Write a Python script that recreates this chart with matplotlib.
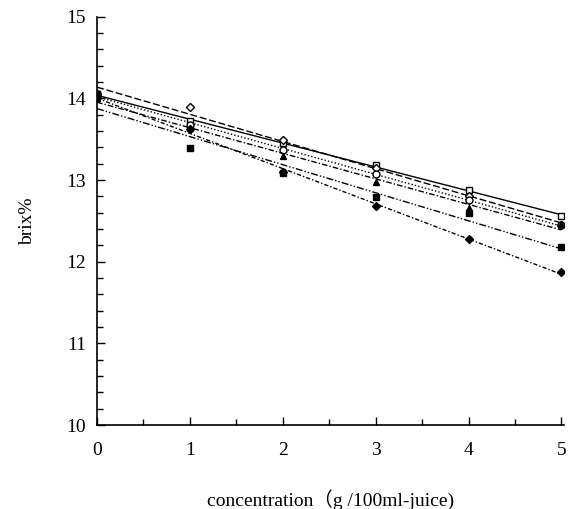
import numpy as np
import matplotlib.pyplot as plt
from matplotlib.ticker import MultipleLocator

# concentration (g/100ml juice)
conc = [0, 1, 2, 3, 4, 5]

# brix % for each sample
brix_open_square = [14.05, 13.72, 13.45, 13.18, 12.88, 12.56]
brix_open_diamond = [14.05, 13.90, 13.49, 13.15, 12.80, 12.45]
brix_open_circle = [14.05, 13.68, 13.37, 13.07, 12.75, 12.45]
brix_triangle = [14.00, 13.64, 13.29, 12.98, 12.66, 12.46]
brix_square = [14.05, 13.39, 13.09, 12.79, 12.60, 12.18]
brix_diamond = [14.00, 13.62, 13.10, 12.68, 12.28, 11.87]

series = [
    (brix_open_square, 's', 'white', '-'),
    (brix_open_diamond, 'D', 'white', (0, (5, 2))),
    (brix_open_circle, 'o', 'white', (0, (1, 1.5))),
    (brix_triangle, '^', 'black', (0, (4, 1.5, 1, 1.5))),
    (brix_square, 's', 'black', (0, (5, 1.5, 1, 1.5, 1, 1.5))),
    (brix_diamond, 'D', 'black', (0, (3, 1.5, 1, 1.5))),
]

plt.rcParams['font.family'] = ['Liberation Serif', 'Noto Sans CJK JP']

fig = plt.figure(figsize=(5.71, 5.09), dpi=100)
ax = fig.add_axes([0.170, 0.165, 0.818, 0.802])

x = np.array(conc, dtype=float)
xx = np.linspace(0, 5, 50)
for y, mk, fc, ls in series:
    y = np.array(y)
    k, b = np.polyfit(x, y, 1)
    ax.plot(xx, k * xx + b, color='black', lw=1.0, linestyle=ls)
    ms = 4 if mk == 'D' else 5
    ax.plot(x, y, linestyle='none', marker=mk, ms=ms, mfc=fc, mec='black', mew=1.0)

ax.set_xlim(0, 5.03)
ax.set_ylim(10, 15)
ax.set_xticks(conc)
ax.set_yticks([10, 11, 12, 13, 14, 15])
ax.xaxis.set_minor_locator(MultipleLocator(0.5))
ax.yaxis.set_minor_locator(MultipleLocator(0.2))
ax.tick_params(which='both', direction='in', width=1.0, labelsize=14)
ax.tick_params(which='major', length=6)
ax.tick_params(which='minor', length=4)
ax.tick_params(axis='x', pad=12)
ax.tick_params(axis='y', pad=8)
for s in ['top', 'right']:
    ax.spines[s].set_visible(False)
for s in ['left', 'bottom']:
    ax.spines[s].set_linewidth(1.2)

ax.set_ylabel('brix%', fontsize=14, labelpad=22)
ax.set_xlabel('concentration（g /100ml-juice)', fontsize=14, labelpad=22)

fig.savefig('out.png', dpi=100)
